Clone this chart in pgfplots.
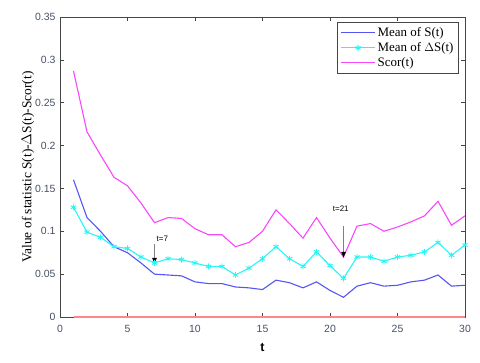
\documentclass[border=0pt]{standalone}
\usepackage{fontspec}
\setmainfont{Liberation Serif}
\setsansfont{Liberation Sans}
\usepackage{pgfplots}
\pgfplotsset{compat=1.18}
\usetikzlibrary{arrows.meta}
\definecolor{sblue}{RGB}{85,85,245}
\definecolor{dcyan}{RGB}{40,245,245}
\definecolor{smag}{RGB}{250,70,250}
\definecolor{zred}{RGB}{255,135,135}
\definecolor{ticklab}{RGB}{70,80,100}
\definecolor{axgray}{RGB}{70,70,70}

\pgfplotstableread{
t S dS Scor
1 0.160 0.128 0.287
2 0.116 0.099 0.216
3 0.100 0.093 0.189
4 0.082 0.082 0.163
5 0.075 0.080 0.153
6 0.063 0.070 0.133
7 0.050 0.063 0.110
8 0.049 0.068 0.116
9 0.048 0.067 0.115
10 0.041 0.063 0.103
11 0.039 0.059 0.096
12 0.039 0.059 0.096
13 0.035 0.049 0.082
14 0.034 0.057 0.087
15 0.032 0.068 0.100
16 0.043 0.082 0.125
17 0.040 0.068 0.109
18 0.034 0.059 0.092
19 0.041 0.076 0.116
20 0.031 0.060 0.092
21 0.023 0.045 0.070
22 0.036 0.070 0.106
23 0.040 0.070 0.109
24 0.036 0.065 0.100
25 0.037 0.070 0.105
26 0.041 0.072 0.111
27 0.043 0.076 0.118
28 0.049 0.087 0.135
29 0.036 0.072 0.107
30 0.037 0.084 0.118
}\data

\begin{document}
\begin{tikzpicture}[x=1bp,y=1bp]
\begin{axis}[
    scale only axis,
    width=405bp,
    height=300bp,
    xmin=0, xmax=30,
    ymin=0, ymax=0.35,
    xtick={0,5,...,30},
    ytick={0,0.05,...,0.35},
    yticklabels={0,0.05,0.1,0.15,0.2,0.25,0.3,0.35},
    tick align=inside,
    major tick length=4bp,
    axis line style={color=axgray, line width=0.8pt},
    tick style={color=axgray, line width=0.6pt},
    tick label style={font=\sffamily\fontsize{10.5}{12}\selectfont, color=ticklab},
    xticklabel style={yshift=-5bp},
    yticklabel style={xshift=-1bp},
    /pgf/number format/assume math mode=true,
    xlabel={\sffamily\bfseries t},
    xlabel style={font=\fontsize{12.5}{14}\selectfont, yshift=-4bp},
    ylabel={Value of statistic S(t)-$\Delta$S(t)-Scor(t)},
    ylabel style={font=\fontsize{13.5}{15}\selectfont, yshift=-6bp},
    legend style={at={(0.985,0.983)}, anchor=north east, draw=axgray, line width=0.8pt,
        font=\fontsize{13}{13}\selectfont, inner sep=3pt, row sep=0.5pt,
        cells={anchor=west}},
    legend cell align=left,
    legend image code/.code={
        \draw[mark repeat=2,mark phase=2,#1]
        plot coordinates {(0cm,0cm) (0.6cm,0cm) (1.2cm,0cm)};},
]
\addplot[color=sblue, line width=1.1pt] table[x=t, y=S] {\data};
\addlegendentry{Mean of S(t)}
\addplot[color=dcyan, line width=1.1pt, mark=asterisk, mark size=3pt,
    mark options={line width=0.9pt}] table[x=t, y=dS] {\data};
\addlegendentry{Mean of $\Delta$S(t)}
\addplot[color=smag, line width=1.1pt] table[x=t, y=Scor] {\data};
\addlegendentry{Scor(t)}
\addplot[color=zred, line width=2pt, forget plot] coordinates {(1,0) (30,0)};

\draw[gray, line width=0.6pt, -{Latex[length=6bp,width=5bp,black]}] (axis cs:7,0.085) -- (axis cs:7,0.062);
\node[font=\sffamily\fontsize{8}{9}\selectfont, anchor=south west, inner sep=0pt] at (axis cs:7.15,0.088) {t=7};
\draw[gray, line width=0.6pt, -{Latex[length=6bp,width=5bp,black]}] (axis cs:21,0.106) -- (axis cs:21,0.069);
\node[font=\sffamily\fontsize{8}{9}\selectfont, anchor=south, inner sep=0pt] at (axis cs:20.8,0.123) {t=21};
\end{axis}
\pgfresetboundingbox
\path[use as bounding box] (-60bp,-46bp) rectangle (420bp,317bp);
\end{tikzpicture}
\end{document}
